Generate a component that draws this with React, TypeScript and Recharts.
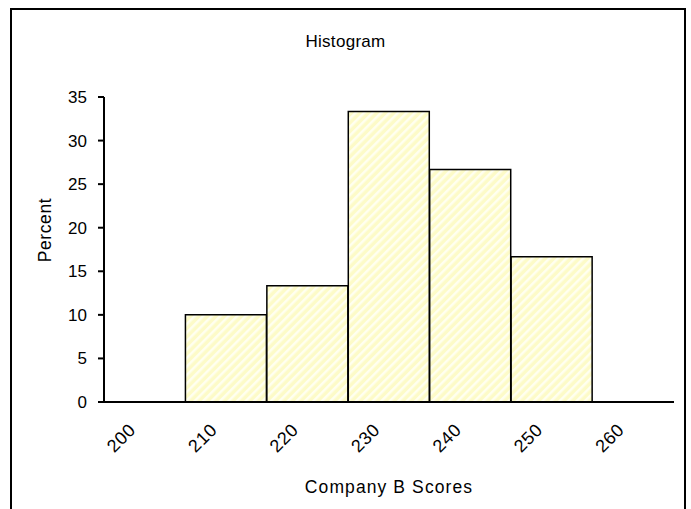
import { Bar, BarChart, Label, XAxis, YAxis } from "recharts";

// score bins and their share of the sample
const bins = ["200", "210", "220", "230", "240", "250", "260"];
const percents = [0, 10, 13.33, 33.33, 26.67, 16.67, 0];
const yTicks = [0, 5, 10, 15, 20, 25, 30, 35];

const data = bins.map((bin, i) => ({ bin, percent: percents[i] }));

const FONT = "Arial, 'Liberation Sans', sans-serif";

function SlantTick(props: any) {
  const { x, y, payload } = props;
  const px = x - 8;
  const py = y + 21;
  return (
    <text
      x={px}
      y={py}
      transform={`rotate(-45, ${px}, ${py})`}
      textAnchor="end"
      fontSize={18}
      letterSpacing={0.6}
      fontFamily={FONT}
      fill="#000"
    >
      {payload.value}
    </text>
  );
}

export default function App() {
  return (
    <div
      style={{
        position: "absolute",
        left: 0,
        top: 0,
        width: 691,
        height: 509,
        overflow: "hidden",
        background: "#fff",
      }}
    >
      <div
        style={{
          position: "absolute",
          left: 10,
          top: 8,
          width: 676,
          height: 540,
          border: "2px solid #000",
          boxSizing: "border-box",
        }}
      />
      <div
        style={{
          position: "absolute",
          left: 0,
          top: 32,
          width: 691,
          textAlign: "center",
          fontFamily: FONT,
          fontSize: 17,
          letterSpacing: 0.3,
        }}
      >
        Histogram
      </div>
      <BarChart
        width={691}
        height={509}
        data={data}
        margin={{ top: 97, right: 17, left: 0, bottom: 0 }}
        barCategoryGap={0}
        barGap={0}
        style={{ position: "absolute", left: 0, top: 0 }}
      >
        <defs>
          <pattern
            id="hatch"
            width="6"
            height="6"
            patternUnits="userSpaceOnUse"
            patternTransform="rotate(45)"
          >
            <rect width="6" height="6" fill="#fdfbc8" />
            <rect width="2.5" height="6" fill="#fffff0" />
          </pattern>
        </defs>
        <XAxis
          dataKey="bin"
          height={107}
          tickLine={false}
          axisLine={{ stroke: "#000", strokeWidth: 2 }}
          tick={<SlantTick />}
          interval={0}
        >
          <Label
            value="Company B Scores"
            position="insideBottom"
            offset={16}
            style={{
              fontSize: 17.5,
              fontFamily: FONT,
              fill: "#000",
              letterSpacing: 1.1,
            }}
          />
        </XAxis>
        <YAxis
          width={104}
          domain={[0, 35]}
          ticks={yTicks}
          interval={0}
          tickSize={6}
          tickMargin={11}
          tickLine={{ stroke: "#000", strokeWidth: 2 }}
          axisLine={{ stroke: "#000", strokeWidth: 2 }}
          tick={{ fontSize: 17, fontFamily: FONT, fill: "#000" }}
        >
          <Label
            value="Percent"
            angle={-90}
            content={() => (
              <text
                x={51}
                y={230}
                transform="rotate(-90, 51, 230)"
                textAnchor="middle"
                fontSize={17.5}
                letterSpacing={0.6}
                fontFamily={FONT}
                fill="#000"
              >
                Percent
              </text>
            )}
          />
        </YAxis>
        <Bar
          dataKey="percent"
          fill="url(#hatch)"
          stroke="#000"
          strokeWidth={1.5}
          isAnimationActive={false}
        />
      </BarChart>
    </div>
  );
}
